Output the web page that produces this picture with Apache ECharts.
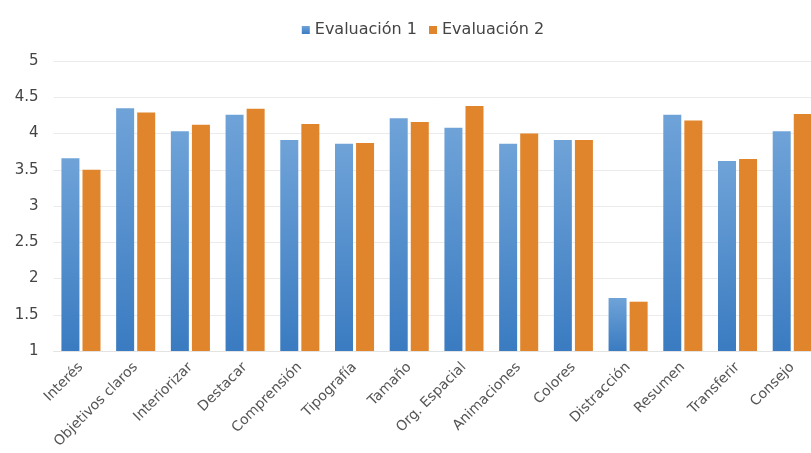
<!DOCTYPE html>
<html>
<head>
<meta charset="utf-8">
<script src="https://cdn.jsdelivr.net/npm/echarts@6/dist/echarts.min.js"></script>
<style>html,body{margin:0;padding:0;background:#fff;overflow:hidden;width:811px;height:453px;}#c{width:846px;height:453px;}</style>
</head>
<body>
<div id="c"></div>
<script>
var categories = ['Interés','Objetivos claros','Interiorizar','Destacar','Comprensión','Tipografía','Tamaño','Org. Espacial','Animaciones','Colores','Distracción','Resumen','Transferir','Consejo'];
var seriesNames = ['Evaluación 1','Evaluación 2'];
var evaluacion1 = [3.66,4.35,4.03,4.26,3.91,3.86,4.21,4.08,3.86,3.91,1.73,4.26,3.62,4.03];
var evaluacion2 = [3.50,4.29,4.12,4.34,4.13,3.87,4.16,4.38,4.00,3.91,1.68,4.18,3.65,4.27];
var yTicks = {min:1, max:5, interval:0.5};

var chart = echarts.init(document.getElementById('c'), null, {renderer:'canvas'});
var font = '"DejaVu Sans", Verdana, sans-serif';
chart.setOption({
  animation:false,
  backgroundColor:'#ffffff',
  legend:{
    top:17, left:'center',
    itemWidth:8, itemHeight:8, itemGap:12,
    icon:'rect',
    textStyle:{fontFamily:font, fontSize:16, color:'#444'},
    data:seriesNames
  },
  grid:{left:53.6, top:61, bottom:102, right:26.4, containLabel:false},
  xAxis:{
    type:'category', data:categories,
    axisLine:{show:true, lineStyle:{color:'#e3e3e3'}},
    axisTick:{show:false},
    axisLabel:{rotate:45, interval:0, margin:14, fontFamily:font, fontSize:14, color:'#555'}
  },
  yAxis:{
    type:'value', min:yTicks.min, max:yTicks.max, interval:yTicks.interval,
    axisLine:{show:false}, axisTick:{show:false},
    axisLabel:{margin:15, fontFamily:font, fontSize:15, color:'#444',
      formatter:function(v){return String(v);}},
    splitLine:{lineStyle:{color:'#ebebeb', width:1}}
  },
  series:[
    {name:seriesNames[0], type:'bar', data:evaluacion1, barWidth:18, barGap:'17%',
     itemStyle:{color:new echarts.graphic.LinearGradient(0,0,0,1,[{offset:0,color:'#6fa3d8'},{offset:1,color:'#3a7bc1'}])}},
    {name:seriesNames[1], type:'bar', data:evaluacion2, barWidth:18,
     itemStyle:{color:'#e0852b'}}
  ]
});
</script>
</body>
</html>
